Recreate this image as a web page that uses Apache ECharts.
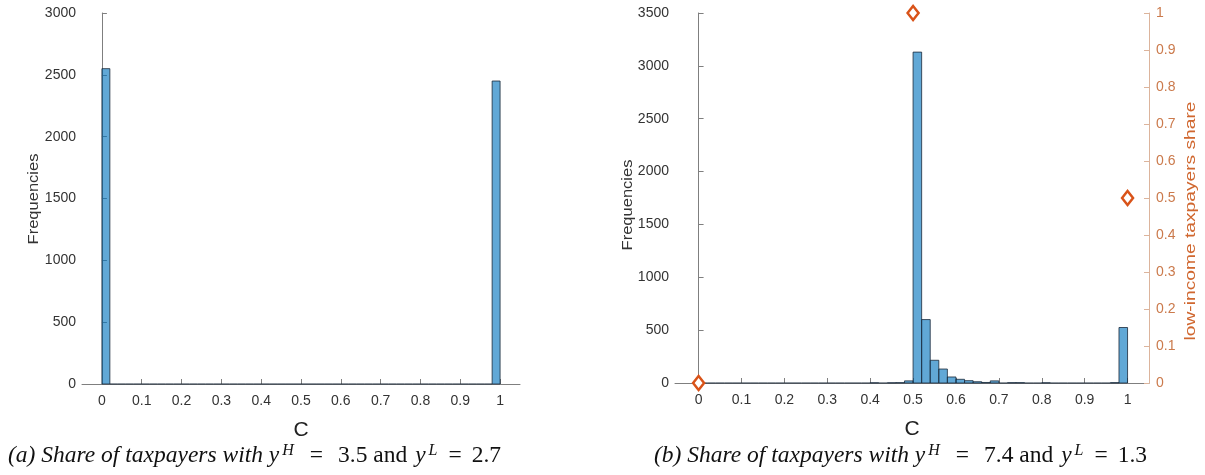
<!DOCTYPE html>
<html>
<head>
<meta charset="utf-8">
<script src="https://cdn.jsdelivr.net/npm/echarts@6/dist/echarts.min.js"></script>
<style>
  html, body { margin: 0; padding: 0; background: #fff; }
  #chart { width: 1205px; height: 475px; }
</style>
</head>
<body>
<div id="chart"></div>
<script>
// Histogram bins of C: 50 bins of width 0.02 covering [0, 1]
const binWidth = 0.02;

// Panel (a): y^H = 3.5, y^L = 2.7
const countsA = [
  2550, 0, 0, 0, 0, 0, 0, 0, 0, 0,
  0, 0, 0, 0, 0, 0, 0, 0, 0, 0,
  0, 0, 0, 0, 0, 0, 0, 0, 0, 0,
  0, 0, 0, 0, 0, 0, 0, 0, 0, 0,
  0, 0, 0, 0, 0, 0, 0, 0, 0, 2450
];

// Panel (b): y^H = 7.4, y^L = 1.3
const countsB = [
  0, 0, 0, 0, 0, 0, 0, 0, 0, 0,
  0, 0, 0, 0, 0, 0, 0, 0, 0, 0,
  2, 0, 2, 3, 20, 3130, 600, 215, 132, 57,
  35, 22, 12, 5, 20, 0, 3, 3, 0, 0,
  2, 0, 0, 0, 0, 0, 0, 0, 3, 525
];

// Low-income taxpayers share (right axis of panel b)
const shareX = [0, 0.5, 1];
const shareY = [0, 1, 0.5];

const xTicks = [0, 0.1, 0.2, 0.3, 0.4, 0.5, 0.6, 0.7, 0.8, 0.9, 1];
const freqMaxA = 3000;
const freqMaxB = 3500;

function histData(counts) {
  return counts.map((c, i) => [i * binWidth, (i + 1) * binWidth, c]);
}

const BAR_FILL = 'rgba(0,114,189,0.62)';
const BAR_EDGE = '#1b2a3a';

function renderBin(params, api) {
  const x0 = api.value(0), x1 = api.value(1), y = api.value(2);
  const p0 = api.coord([x0, y]);
  const p1 = api.coord([x1, 0]);
  if (y === 0) {
    return {
      type: 'line',
      shape: { x1: p0[0], y1: p1[1], x2: p1[0], y2: p1[1] },
      style: { stroke: BAR_EDGE, lineWidth: 1 }
    };
  }
  return {
    type: 'rect',
    shape: { x: p0[0], y: p0[1], width: p1[0] - p0[0], height: p1[1] - p0[1] },
    style: { fill: BAR_FILL, stroke: BAR_EDGE, lineWidth: 0.8 }
  };
}

const FONT = 'Liberation Sans, Arial, sans-serif';
const SERIF = 'Liberation Serif, serif';
const AX_GRAY = '#7f7f7f';
const TXT = '#333333';
const ORANGE_LINE = '#dcb49c';
const ORANGE_TXT = '#cb7a4c';
const ORANGE = '#D95319';

function xAxisCfg(gridIndex, min) {
  return {
    type: 'value', gridIndex, min, max: 1.05,
    name: 'C', nameLocation: 'middle', nameGap: 36,
    nameTextStyle: { fontFamily: FONT, fontSize: 21, color: '#222' },
    axisLine: { show: true, onZero: false, lineStyle: { color: AX_GRAY, width: 1 } },
    axisTick: { show: true, inside: true, length: 5, customValues: xTicks, lineStyle: { color: AX_GRAY } },
    axisLabel: {
      fontFamily: FONT, fontSize: 14, color: TXT, margin: 10,
      customValues: xTicks,
      formatter: v => String(Math.round(v * 10) / 10)
    },
    splitLine: { show: false }
  };
}

function yAxisCfg(gridIndex, max) {
  return {
    type: 'value', gridIndex, min: 0, max, interval: 500,
    axisLine: { show: true, lineStyle: { color: AX_GRAY, width: 1 } },
    axisTick: { show: true, inside: true, length: 5, lineStyle: { color: AX_GRAY } },
    axisLabel: { fontFamily: FONT, fontSize: 14, color: TXT, margin: 6, formatter: v => String(v) },
    splitLine: { show: false }
  };
}

// rotated axis titles (read bottom to top)
function sideTitle(text, x, y, color, stretch) {
  return {
    type: 'text', x, y, rotation: Math.PI / 2, scaleX: stretch,
    style: {
      text, fontFamily: FONT, fontSize: 15, fill: color,
      align: 'center', verticalAlign: 'middle'
    }
  };
}

function caption(left, label, yh, yl) {
  return {
    type: 'text', left, top: 443,
    style: {
      text: '{i|' + label + ' Share of taxpayers with y}{s|H}{e|=}{r|' + yh + ' and }{y|y}{s2|L}{e2|=}{r|' + yl + '}',
      rich: {
        i: { fontFamily: SERIF, fontStyle: 'italic', fontSize: 23.5, fill: '#111' },
        y: { fontFamily: SERIF, fontStyle: 'italic', fontSize: 23.5, fill: '#111', padding: [0, 0, 0, 2] },
        r: { fontFamily: SERIF, fontSize: 23.5, fill: '#111' },
        e: { fontFamily: SERIF, fontSize: 23.5, fill: '#111', padding: [0, 15, 0, 0] },
        e2: { fontFamily: SERIF, fontSize: 23.5, fill: '#111', padding: [0, 10, 0, 0] },
        s: { fontFamily: SERIF, fontStyle: 'italic', fontSize: 16, fill: '#111', verticalAlign: 'top', padding: [0, 16, 10, 3] },
        s2: { fontFamily: SERIF, fontStyle: 'italic', fontSize: 16, fill: '#111', verticalAlign: 'top', padding: [0, 11, 10, 3] }
      }
    }
  };
}

const chart = echarts.init(document.getElementById('chart'), null, { renderer: 'canvas' });

chart.setOption({
  backgroundColor: '#ffffff',
  animation: false,
  grid: [
    { left: 82, top: 13, width: 438, height: 371 },
    { left: 675, top: 13, width: 474, height: 370 }
  ],
  xAxis: [
    xAxisCfg(0, -0.05),
    xAxisCfg(1, -0.055)
  ],
  yAxis: [
    yAxisCfg(0, freqMaxA),
    yAxisCfg(1, freqMaxB),
    {
      type: 'value', gridIndex: 1, position: 'right', min: 0, max: 1, interval: 0.1,
      axisLine: { show: true, lineStyle: { color: ORANGE_LINE, width: 1 } },
      axisTick: { show: true, inside: true, length: 5, lineStyle: { color: ORANGE_LINE } },
      axisLabel: { fontFamily: FONT, fontSize: 14, color: ORANGE_TXT, margin: 7,
        formatter: v => String(Math.round(v * 10) / 10) },
      splitLine: { show: false }
    }
  ],
  series: [
    {
      type: 'custom', xAxisIndex: 0, yAxisIndex: 0,
      renderItem: renderBin, data: histData(countsA), clip: false
    },
    {
      type: 'custom', xAxisIndex: 1, yAxisIndex: 1,
      renderItem: renderBin, data: histData(countsB), clip: false
    },
    {
      type: 'scatter', xAxisIndex: 1, yAxisIndex: 2, z: 5,
      symbol: 'path://M0,-1 L1,0 L0,1 L-1,0 Z',
      symbolSize: [11, 14],
      clip: false,
      itemStyle: { color: '#ffffff', borderColor: ORANGE, borderWidth: 2.5, opacity: 1 },
      data: shareX.map((x, i) => [x, shareY[i]])
    }
  ],
  graphic: [
    sideTitle('Frequencies', 34, 199, TXT, 1.1),
    sideTitle('Frequencies', 628, 205, TXT, 1.1),
    sideTitle('low-income taxpayers share', 1191, 221, '#d0672f', 1.28),
    caption(8, '(a)', '3.5', '2.7'),
    caption(654, '(b)', '7.4', '1.3')
  ]
});
</script>
</body>
</html>
